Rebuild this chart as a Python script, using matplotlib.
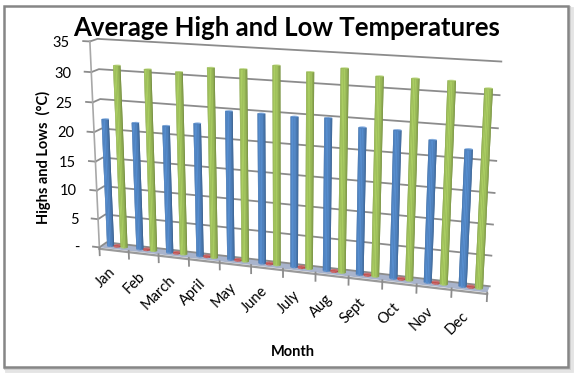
import matplotlib
matplotlib.use('Agg')
import matplotlib.pyplot as plt
import matplotlib.patches as mpatches
from matplotlib.colors import to_rgb
from mpl_toolkits.mplot3d import proj3d
import numpy as np

months = ['Jan', 'Feb', 'March', 'April', 'May', 'June', 'July', 'Aug', 'Sept', 'Oct', 'Nov', 'Dec']
highs = [31.1, 30.8, 30.7, 31.7, 31.8, 32.7, 32.0, 32.9, 32.0, 32.0, 32.0, 31.2]
lows = [22.0, 21.8, 21.7, 22.5, 24.9, 24.9, 24.8, 25.0, 23.9, 23.9, 22.8, 21.8]
other = [0.2, 0.2, 0.2, 0.2, 0.2, 0.2, 0.2, 0.2, 0.2, 0.2, 0.2, 0.2]
y_ticks = [0, 5, 10, 15, 20, 25, 30, 35]
y_labels = ['-', '5', '10', '15', '20', '25', '30', '35']

BLUE = '#4F81BD'
RED = '#C0504D'
GREEN = '#9BBB59'
GRID = '#8c8c8c'

ASPECT = (13.4, 0.55, 7.2)
RADIUS = 0.115
RADIUS_Y = RADIUS * ASPECT[0] / 12 / ASPECT[1]

plt.rcParams['font.family'] = 'Lato'

fig = plt.figure(figsize=(5.8, 3.78), dpi=100)
fig.patch.set_facecolor('white')


def box(x0, y0, x1, y1, **kw):
    # pixel box, y measured from the top of the picture
    fig.add_artist(mpatches.Rectangle((x0 / 580, 1 - y1 / 378), (x1 - x0) / 580, (y1 - y0) / 378,
                                      transform=fig.transFigure, zorder=-5, **kw))


box(6, 8, 572, 371, fc='none', ec='#e4e4e4', lw=2)
box(5, 7, 570, 369, fc='none', ec='#cfcfcf', lw=1.5)
box(3.5, 6, 568, 367, fc='white', ec='#868686', lw=1.8)

ax = fig.add_axes([-0.074, -0.296, 1.103, 1.693], projection='3d')
ax.patch.set_alpha(0)
ax.computed_zorder = False
ax.set_axis_off()
ax.set_proj_type('persp', focal_length=0.33)
ax.view_init(elev=15.5, azim=-72)
ax.set_xlim(0, 12)
ax.set_ylim(0, 1)
ax.set_zlim(0, 35)
ax.set_box_aspect(ASPECT, zoom=0.715)


def cylinder(xc, value, color, z):
    # solid backing so facet seams stay coloured, shaded front half, then a lighter lid
    base = np.array(to_rgb(color))
    back_x = np.tile([xc - RADIUS, xc + RADIUS], (2, 1))
    back_z = np.array([[0, 0], [value, value]])
    ax.plot_surface(back_x, np.full_like(back_x, 0.5), back_z, color=base * 0.85, shade=False,
                    rstride=1, cstride=1, linewidth=0, zorder=z)

    theta = np.linspace(np.pi, 2 * np.pi, 9)
    hg = np.tile(np.array([0, value])[:, None], (1, theta.size))
    xs = np.tile(xc + RADIUS * np.cos(theta), (2, 1))
    ys = np.tile(0.5 + RADIUS_Y * np.sin(theta), (2, 1))
    mid = (theta[:-1] + theta[1:]) / 2
    shade = 0.74 + 0.36 * np.cos(mid - np.radians(265))
    side = np.clip(base[None, :] * shade[:, None], 0, 1)[None, :, :]
    surf = ax.plot_surface(xs, ys, hg, facecolors=side, shade=False, rstride=1, cstride=1,
                           linewidth=0, edgecolor='none', zorder=z + 0.2)
    surf.set_snap(False)

    ring = np.linspace(0, 2 * np.pi, 25)
    lid_x = np.vstack([xc + RADIUS * np.cos(ring), np.full(ring.size, xc)])
    lid_y = np.vstack([0.5 + RADIUS_Y * np.sin(ring), np.full(ring.size, 0.5)])
    ax.plot_surface(lid_x, lid_y, np.full_like(lid_x, value), color=np.clip(base * 1.12, 0, 1),
                    shade=False, rstride=1, cstride=1, linewidth=0, zorder=z + 0.5)


# floor slab
fx, fy = np.meshgrid([0, 12], [0, 1])
ax.plot_surface(fx, fy, np.zeros_like(fx), color='#a9b4cc', shade=False, linewidth=0, zorder=1)
ax.plot([0, 12], [0, 0], [-0.25, -0.25], color='#9a9a9a', lw=1.6, zorder=2)

# side wall, back wall and ticks
for tick in y_ticks:
    ax.plot([-0.22, 0], [0, 0], [tick, tick], color=GRID, lw=1.3, zorder=3)
    ax.plot([0, 0, 12], [0, 1, 1], [tick, tick, tick], color=GRID, lw=1.3, zorder=3)
ax.plot([0, 0], [0, 0], [0, 35], color='#a8a8a8', lw=1.2, zorder=3)
for i in range(13):
    ax.plot([i, i], [0, 0], [0, -1.4], color=GRID, lw=1.3, zorder=3)

for i in range(12):
    cylinder(i + 0.27, lows[i], BLUE, 10 + 3 * i)
    cylinder(i + 0.5, other[i], RED, 11 + 3 * i)
    cylinder(i + 0.73, highs[i], GREEN, 12 + 3 * i)

fig.canvas.draw()


def label_at(x, y, z, text, **kw):
    # place a flat figure text where the 3D point lands on the page
    xp, yp, _ = proj3d.proj_transform(x, y, z, ax.get_proj())
    fx_, fy_ = fig.transFigure.inverted().transform(ax.transData.transform((xp, yp)))
    fig.text(fx_, fy_, text, **kw)


for tick, label in zip(y_ticks, y_labels):
    label_at(-0.68, 0, tick - 0.5, label, ha='right', va='center', fontsize=10.5, color='black')
for i, month in enumerate(months):
    label_at(i + 0.45, 0, -3.8, month, rotation=45, ha='right', va='center', rotation_mode='anchor',
             fontsize=10.5, color='black')

fig.text(286.5 / 580, 1 - 28 / 378, 'Average High and Low Temperatures', ha='center', va='center',
         fontsize=18.5, fontweight='bold', color='black')
fig.text(43 / 580, 1 - 157 / 378, 'Highs and Lows  (°C)', rotation=90, ha='center', va='center',
         fontsize=10.5, fontweight='bold', color='black')
fig.text(293 / 580, 1 - 352 / 378, 'Month', ha='center', va='center',
         fontsize=10.5, fontweight='bold', color='black')

fig.savefig('out.png', dpi=100, facecolor='white')
